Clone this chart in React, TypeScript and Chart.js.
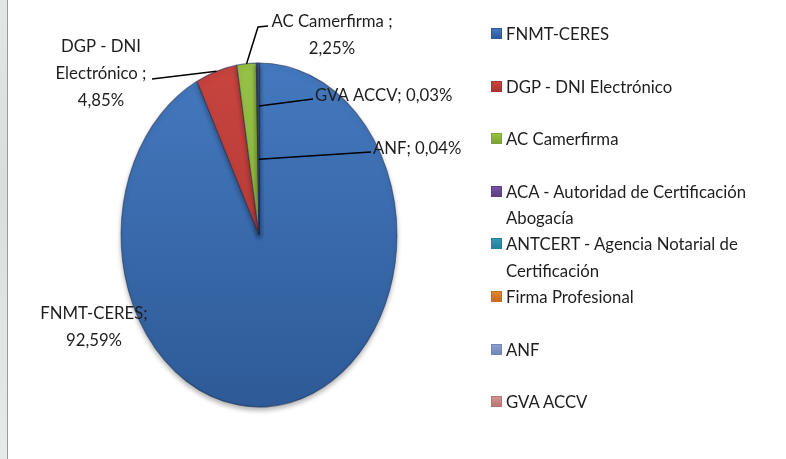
import React, { useEffect, useRef } from "react";
import { Chart, registerables } from "chart.js";

Chart.register(...registerables);

const categories = [
  "FNMT-CERES",
  "DGP - DNI Electrónico",
  "AC Camerfirma",
  "ACA - Autoridad de Certificación Abogacía",
  "ANTCERT - Agencia Notarial de Certificación",
  "Firma Profesional",
  "ANF",
  "GVA ACCV",
];
const shares = [92.59, 4.85, 2.25, 0.1, 0.08, 0.06, 0.04, 0.03];
const topColors = ["#4479bf", "#c8443f", "#96c246", "#7653a0", "#3597b4", "#e08532", "#8aa1cd", "#d39291"];
const bottomColors = ["#2e5a97", "#a83330", "#7ea235", "#5c3f84", "#25809b", "#c46d1f", "#6f86b6", "#b97574"];

const FONT = '18px Lato, "Liberation Sans Narrow", sans-serif';
const TEXT_SX = 0.93;
const SCALE_Y = 172 / 138;

const fmt = (v: number) => v.toFixed(2).replace(".", ",") + "%";

type LabelSpec = {
  index: number;
  lines: string[];
  x: number;
  y: number;
  align: CanvasTextAlign;
  frac?: number;
  path?: number[][];
};

const labelSpecs: LabelSpec[] = [
  { index: 0, lines: ["FNMT-CERES;", fmt(shares[0])], x: 94, y: 313, align: "center" },
  { index: 1, lines: ["DGP - DNI", "Electrónico ;", fmt(shares[1])], x: 101, y: 46, align: "center", frac: 1, path: [[152, 79]] },
  { index: 2, lines: ["AC Camerfirma ;", fmt(shares[2])], x: 332, y: 21, align: "center", frac: 1, path: [[258, 27], [268, 26]] },
  { index: 7, lines: ["GVA ACCV; " + fmt(shares[7])], x: 315, y: 95, align: "left", frac: 0.75, path: [[313, 99]] },
  { index: 6, lines: ["ANF; " + fmt(shares[6])], x: 373, y: 148, align: "left", frac: 0.44, path: [[371, 152]] },
];

const ellipsePlugin = {
  id: "ellipse",
  beforeDatasetsDraw(chart: any) {
    const arc = chart.getDatasetMeta(0).data[0];
    const ctx = chart.ctx;
    ctx.save();
    if (!arc) return;
    ctx.translate(arc.x, arc.y);
    ctx.scale(1, SCALE_Y);
    ctx.translate(-arc.x, -arc.y);
    ctx.shadowColor = "rgba(0,0,0,0.3)";
    ctx.shadowBlur = 5;
    ctx.shadowOffsetX = 0;
    ctx.shadowOffsetY = 3;
  },
  afterDatasetsDraw(chart: any) {
    chart.ctx.restore();
  },
};

const labelPlugin = {
  id: "sliceLabels",
  afterDraw(chart: any) {
    const ctx = chart.ctx;
    const meta = chart.getDatasetMeta(0);
    ctx.save();
    ctx.font = FONT;
    ctx.fillStyle = "#1e1e1e";
    ctx.strokeStyle = "#000";
    ctx.lineWidth = 1.5;
    ctx.textBaseline = "middle";
    for (const s of labelSpecs) {
      const arc = meta.data[s.index];
      if (s.path && arc) {
        const mid = (arc.startAngle + arc.endAngle) / 2;
        const r = arc.outerRadius * (s.frac ?? 1);
        const ax = arc.x + Math.cos(mid) * r;
        const ay = arc.y + Math.sin(mid) * r * SCALE_Y;
        ctx.beginPath();
        ctx.moveTo(ax, ay);
        for (const p of s.path) ctx.lineTo(p[0], p[1]);
        ctx.stroke();
      }
      ctx.textAlign = s.align;
      s.lines.forEach((t, i) => {
        ctx.save();
        ctx.translate(s.x, s.y + i * 27);
        ctx.scale(TEXT_SX, 1);
        ctx.fillText(t, 0, 0);
        ctx.restore();
      });
    }
    ctx.restore();
  },
};

export default function App() {
  const ref = useRef<HTMLCanvasElement | null>(null);
  useEffect(() => {
    if (!ref.current) return;
    const chart = new Chart(ref.current, {
      type: "pie",
      data: {
        labels: categories,
        datasets: [
          {
            data: shares,
            backgroundColor: (c: any) => {
              const i = c.dataIndex ?? 0;
              const area = c.chart.chartArea;
              if (!area) return topColors[i];
              const cy = (area.top + area.bottom) / 2;
              if (!isFinite(cy)) return topColors[i];
              const g = c.chart.ctx.createLinearGradient(0, cy - 138, 0, cy + 138);
              g.addColorStop(0, topColors[i]);
              g.addColorStop(1, bottomColors[i]);
              return g;
            },
            borderColor: "rgba(30,45,80,0.55)",
            borderWidth: 1,
          },
        ],
      },
      options: {
        animation: false,
        responsive: false,
        maintainAspectRatio: false,
        radius: 138,
        layout: { padding: { left: 0, right: 268, top: 11, bottom: 0 } },
        plugins: { legend: { display: false }, tooltip: { enabled: false } },
      } as any,
      plugins: [ellipsePlugin, labelPlugin],
    });
    return () => chart.destroy();
  }, []);

  return (
    <div style={{ position: "absolute", left: 0, top: 0, width: 786, height: 459, background: "#fff", overflow: "hidden" }}>
      <canvas ref={ref} width={786} height={459} style={{ position: "absolute", left: 0, top: 0, width: 786, height: 459 }} />
      <div
        style={{
          position: "absolute",
          left: 0,
          top: 0,
          width: 7,
          height: 459,
          background: "linear-gradient(to bottom, #e2e6e6, #dadddd 40%, #e0e6e6 80%, #e6eaea)",
          borderRight: "1px solid #9a9a9a",
        }}
      />
      {categories.map((name, i) => (
        <div
          key={name}
          style={{
            position: "absolute",
            left: 491,
            top: 20 + i * 52.6,
            width: 290,
          }}
        >
          <div
            style={{
              position: "absolute",
              left: 0,
              top: 8,
              width: 9,
              height: 9,
              border: "1px solid " + bottomColors[i],
              background: `linear-gradient(to bottom, ${topColors[i]}, ${bottomColors[i]})`,
            }}
          />
          <div
            style={{
              marginLeft: 15,
              width: 275,
              font: FONT,
              lineHeight: "26.3px",
              color: "#1e1e1e",
              transform: `scaleX(${TEXT_SX})`,
              transformOrigin: "left top",
            }}
          >
            {name}
          </div>
        </div>
      ))}
    </div>
  );
}
